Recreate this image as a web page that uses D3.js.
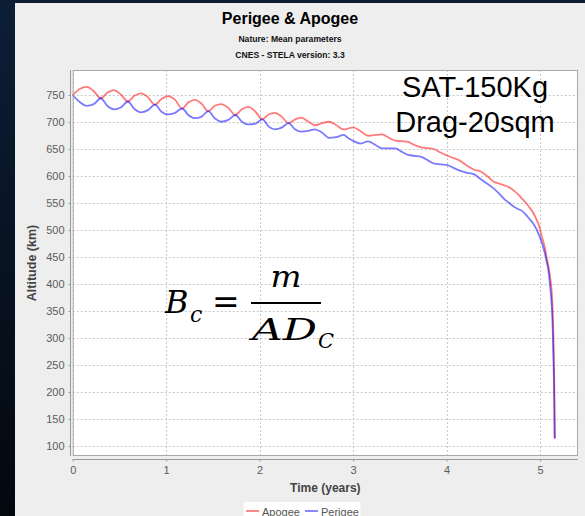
<!DOCTYPE html>
<html>
<head>
<meta charset="utf-8">
<script src="https://cdn.jsdelivr.net/npm/d3@7"></script>
<style>
  html, body { margin: 0; padding: 0; background: #08162a; }
  svg { display: block; }
</style>
</head>
<body>
<svg id="chart" width="585" height="516"></svg>
<script>
// Mean perigee / apogee altitude (km) over time (years) from the STELA run
const years = [
  0, 0.075, 0.15, 0.225, 0.30, 0.37, 0.44, 0.515, 0.59, 0.66, 0.73, 0.805, 0.88, 0.95,
  1.02, 1.095, 1.17, 1.24, 1.31, 1.38, 1.45, 1.52, 1.59, 1.665, 1.74, 1.81, 1.88, 1.955,
  2.03, 2.095, 2.16, 2.235, 2.31, 2.375, 2.44, 2.52, 2.59, 2.67, 2.745, 2.82, 2.90, 2.95,
  3.00, 3.08, 3.16, 3.235, 3.31, 3.38, 3.45, 3.52, 3.58, 3.65, 3.73, 3.80, 3.86, 3.94,
  4.01, 4.08, 4.14, 4.22, 4.29, 4.37, 4.44, 4.50, 4.57, 4.61, 4.67, 4.72, 4.77, 4.81,
  4.85, 4.89, 4.93, 4.96, 4.99, 5.02, 5.05, 5.07, 5.09, 5.11, 5.125, 5.135, 5.145, 5.152, 5.157
];
const apogee = [
  750, 761, 765, 757, 744, 754, 759, 751, 738, 748.5, 753, 746, 732, 742.5,
  748, 741, 725, 736.5, 741, 733.5, 720, 730, 733, 726, 713, 723.5, 728, 719,
  705, 714, 717, 710, 698, 704.5, 708, 701, 694, 698, 700.5, 694, 686.5, 688,
  690, 683, 674.5, 676, 677, 671, 665.5, 664.5, 663.5, 658, 653, 651.5, 650, 643,
  637.5, 633, 628.5, 619, 612, 608, 599, 590, 585.5, 583, 579, 573, 565, 557.5,
  550, 541, 531, 520, 507, 487, 468, 450, 432, 410, 385, 352, 290, 215, 114
];
const perigee = [
  750, 737, 730, 733, 744, 730, 723.5, 727, 738, 724, 718, 722, 732, 719,
  714, 717, 725, 712.5, 707, 710, 720, 707, 700.5, 704, 713, 700.5, 695.5, 697,
  705, 692, 686.5, 689.5, 698, 687, 682, 683.5, 686.5, 680, 670.5, 672, 676, 670,
  665, 660, 664, 658, 651, 651, 651, 645, 639.5, 637.5, 635.5, 629, 623.5, 621.5,
  620, 614.5, 610, 606, 603.5, 593.5, 585, 577.5, 566, 558.5, 550, 543, 538.5, 535,
  528, 520, 511, 502, 490, 476, 458, 442, 425, 392, 360, 320, 250, 190, 114
];
const seriesNames = ["Apogee", "Perigee"];
const seriesColors = ["rgba(255,0,0,0.52)", "rgba(0,0,255,0.52)"];
const xTicks = [0, 1, 2, 3, 4, 5];
const yTicks = [100, 150, 200, 250, 300, 350, 400, 450, 500, 550, 600, 650, 700, 750];
const titleText = "Perigee & Apogee";
const subtitles = ["Nature: Mean parameters", "CNES - STELA version: 3.3"];
const xTitle = "Time (years)";
const yTitle = "Altitude (km)";
const noteLines = ["SAT-150Kg", "Drag-20sqm"];

const svg = d3.select("#chart");
const W = 585, H = 516;
const plot = { left: 72.7, right: 578, top: 70, bottom: 456 };
const sans = "'Liberation Sans', Arial, sans-serif";

// slide backdrop and chart panel
const bg = svg.append("defs").append("linearGradient")
  .attr("id", "slide").attr("x1", 0).attr("y1", 0).attr("x2", 0).attr("y2", 1);
bg.append("stop").attr("offset", 0).attr("stop-color", "#0c1e36");
bg.append("stop").attr("offset", 1).attr("stop-color", "#03080f");
svg.append("rect").attr("width", W).attr("height", H).attr("fill", "url(#slide)");
svg.append("rect").attr("x", 15).attr("y", 3).attr("width", W - 15).attr("height", H - 3)
  .attr("fill", "#eeeeee");

// titles
svg.append("text").attr("x", 290).attr("y", 24).attr("text-anchor", "middle")
  .attr("font-family", sans).attr("font-weight", "bold").attr("font-size", 16)
  .attr("fill", "#000").text(titleText);
svg.selectAll("text.sub").data(subtitles).enter().append("text")
  .attr("class", "sub")
  .attr("x", 290).attr("y", (d, i) => 41.5 + i * 16).attr("text-anchor", "middle")
  .attr("font-family", sans).attr("font-weight", "bold").attr("font-size", 8.6)
  .attr("fill", "#111").text(d => d);

// scales
const x = d3.scaleLinear().domain([0, 5.406]).range([plot.left, plot.right]);
const y = d3.scaleLinear().domain([81.5, 796.3]).range([plot.bottom, plot.top]);

// plot background
svg.append("rect").attr("x", plot.left).attr("y", plot.top)
  .attr("width", plot.right - plot.left).attr("height", plot.bottom - plot.top)
  .attr("fill", "#ffffff");

// dotted grid
const grid = svg.append("g").attr("stroke", "#c8c8c8").attr("stroke-width", 1)
  .attr("stroke-dasharray", "2,2");
grid.selectAll("line.h").data(yTicks).enter().append("line")
  .attr("x1", plot.left).attr("x2", plot.right)
  .attr("y1", d => Math.round(y(d)) + 0.5).attr("y2", d => Math.round(y(d)) + 0.5);
grid.selectAll("line.v").data(xTicks).enter().append("line")
  .attr("y1", plot.top).attr("y2", plot.bottom)
  .attr("x1", d => Math.round(x(d)) + 0.5).attr("x2", d => Math.round(x(d)) + 0.5);

// series lines
const series = [apogee, perigee];
const line = d3.line().curve(d3.curveMonotoneX);
series.forEach((vals, k) => {
  svg.append("path")
    .attr("d", line(years.map((t, i) => [x(t), y(vals[i])])))
    .attr("fill", "none").attr("stroke", seriesColors[k]).attr("stroke-width", 1.8)
    .attr("stroke-linejoin", "round");
});

// plot outline
svg.append("rect").attr("x", plot.left + 0.5).attr("y", plot.top + 0.5)
  .attr("width", plot.right - plot.left - 1).attr("height", plot.bottom - plot.top - 1)
  .attr("fill", "none").attr("stroke", "#a8a8a8");

// axes
const yAxis = d3.axisLeft(y).tickValues(yTicks).tickSize(2).tickSizeOuter(0).tickPadding(4);
const xAxis = d3.axisBottom(x).tickValues(xTicks).tickSize(2).tickSizeOuter(0).tickPadding(5)
  .tickFormat(d3.format("d"));
const gy = svg.append("g").attr("transform", "translate(70.5,0)").call(yAxis);
const gx = svg.append("g").attr("transform", `translate(0,${459.5})`).call(xAxis);
[gx, gy].forEach(g => {
  g.select(".domain").attr("stroke", "#999999");
  g.selectAll(".tick line").attr("stroke", "#999999");
  g.selectAll(".tick text").attr("font-family", sans).attr("font-size", 11).attr("fill", "#5c5c5c");
});
gy.select(".domain").attr("d", `M0,${plot.bottom}V${plot.top}`);
gx.select(".domain").attr("d", `M${plot.left},0H${plot.right}`);

// axis titles
svg.append("text").attr("x", (plot.left + plot.right) / 2).attr("y", 492)
  .attr("text-anchor", "middle").attr("font-family", sans).attr("font-weight", "bold")
  .attr("font-size", 12).attr("fill", "#444").text(xTitle);
svg.append("text").attr("transform", `translate(36,${(plot.top + plot.bottom) / 2}) rotate(-90)`)
  .attr("text-anchor", "middle").attr("font-family", sans).attr("font-weight", "bold")
  .attr("font-size", 12.5).attr("fill", "#444").text(yTitle);

// legend
const lg = svg.append("g");
lg.append("rect").attr("x", 243.5).attr("y", 502).attr("width", 117).attr("height", 20)
  .attr("fill", "#ffffff");
const itemX = [246, 305];
seriesNames.forEach((name, k) => {
  lg.append("line").attr("x1", itemX[k]).attr("x2", itemX[k] + 13)
    .attr("y1", 511).attr("y2", 511).attr("stroke", seriesColors[k]).attr("stroke-width", 1.8);
  lg.append("text").attr("x", itemX[k] + 16).attr("y", 515.5)
    .attr("font-family", sans).attr("font-size", 11).attr("fill", "#555").text(name);
});

// spacecraft note
svg.selectAll("text.note").data(noteLines).enter().append("text")
  .attr("class", "note").attr("x", 475).attr("y", (d, i) => 97 + i * 35)
  .attr("text-anchor", "middle").attr("font-family", sans).attr("font-size", 29)
  .attr("fill", "#000").text(d => d);

// ballistic coefficient formula
const f = svg.append("g").attr("font-family", "'DejaVu Serif', serif").attr("fill", "#000");
f.append("text").attr("x", 165).attr("y", 313).attr("font-size", 32).attr("font-style", "italic").text("B");
f.append("text").attr("x", 190).attr("y", 322).attr("font-size", 22).attr("font-style", "italic").text("c");
f.append("text").attr("x", 212).attr("y", 313).attr("font-size", 33).text("=");
f.append("line").attr("x1", 251).attr("x2", 321).attr("y1", 303).attr("y2", 303)
  .attr("stroke", "#000").attr("stroke-width", 2);
f.append("text").attr("x", 286).attr("y", 287).attr("text-anchor", "middle")
  .attr("font-size", 29).attr("font-style", "italic")
  .attr("textLength", 31).attr("lengthAdjust", "spacingAndGlyphs").text("m");
f.append("text").attr("x", 252).attr("y", 340).attr("font-size", 30).attr("font-style", "italic")
  .attr("textLength", 65).attr("lengthAdjust", "spacingAndGlyphs").text("AD");
f.append("text").attr("x", 318).attr("y", 348).attr("font-size", 21).attr("font-style", "italic").text("C");
</script>
</body>
</html>
